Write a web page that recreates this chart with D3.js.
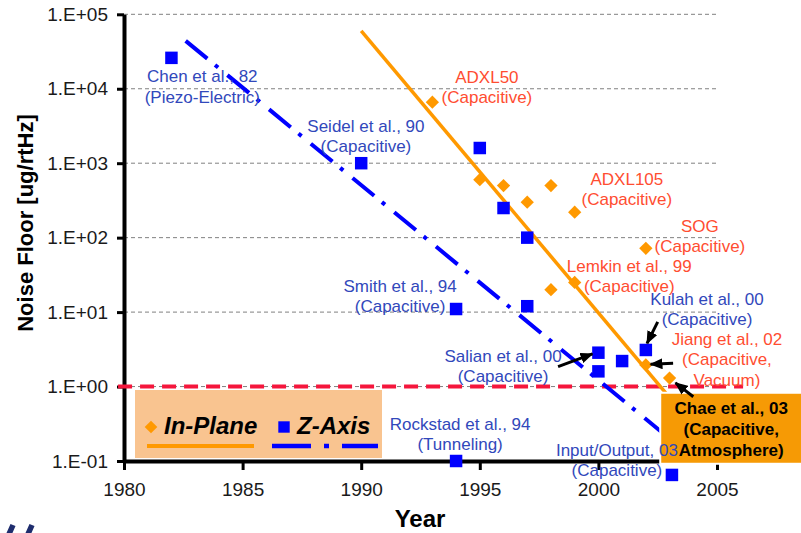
<!DOCTYPE html>
<meta charset="utf-8">
<style>
  body { margin: 0; background: #ffffff; }
  svg { font-family: Arial, "Liberation Sans", sans-serif; }
  .grid line { stroke: #808080; stroke-width: 1; stroke-dasharray: 4,3; }
  .axis .domain { stroke: #000; stroke-width: 4; }
  .axis .tick line { stroke: #000; stroke-width: 3; }
  .axis text { font-size: 19px; fill: #1a1a1a; font-family: Arial, "Liberation Sans", sans-serif; }
  .note { font-size: 17px; }
</style>
<body>
<script src="https://d3js.org/d3.v7.min.js"></script>
<script>
// tick values
var yearTicks = [1980, 1985, 1990, 1995, 2000, 2005];
var noiseTicks = [1e-1, 1e0, 1e1, 1e2, 1e3, 1e4, 1e5];
var noiseTickLabels = ["1.E-01", "1.E+00", "1.E+01", "1.E+02", "1.E+03", "1.E+04", "1.E+05"];

// In-Plane accelerometers (orange diamonds)
var inPlaneYear  = [1993, 1995, 1996, 1997, 1998, 1999, 1998, 1999, 2002, 2002, 2003];
var inPlaneNoise = [6600, 600,  500,  300,  500,  220,  20,   25,   72,   1.95, 1.3];

// Z-Axis accelerometers (blue squares)
var zAxisYear  = [1982,  1990, 1995, 1996, 1997, 1997, 1994, 2000, 2000, 2001, 2002, 1994, 2003.1];
var zAxisNoise = [26000, 1000, 1600, 250,  100,  12,   11,   2.85, 1.6,  2.2,  3.1,  0.1,  0.065];

// trend lines
var inPlaneFitYear = [1990, 2003.2];
var inPlaneFitNoise = [60000, 0.6];
var zAxisFitYear = [1982.6, 2002.7];
var zAxisFitNoise = [44000, 0.24];

// 1 ug/rtHz target
var targetNoise = 1;
var targetSpan = [1979.75, 2006.1];

// annotations: text lines, anchor (year, noise of first baseline), colour group
var noteText = [
  ["Chen et al., 82", "(Piezo-Electric)"],
  ["Seidel et al., 90", "(Capacitive)"],
  ["ADXL50", "(Capacitive)"],
  ["ADXL105", "(Capacitive)"],
  ["SOG", "(Capacitive)"],
  ["Lemkin et al., 99", "(Capacitive)"],
  ["Kulah et al., 00", "(Capacitive)"],
  ["Jiang et al., 02", "(Capacitive,", "Vacuum)"],
  ["Smith et al., 94", "(Capacitive)"],
  ["Salian et al., 00", "(Capacitive)"],
  ["Rockstad et al., 94", "(Tunneling)"],
  ["Input/Output, 03", "(Capacitive)"]
];
var noteYear  = [1983.3, 1990.2, 1995.3, 2001.2, 2004.28, 2001.3, 2004.58, 2005.42, 1991.64, 1995.98, 1994.17, 2000.78];
var noteNoise = [12300,  2630,   12000,  512,    120,     34.8,   12.5,    3.64,    18.7,    2.15,    0.263,   0.118];
var noteGroup = ["z", "z", "p", "p", "p", "p", "z", "p", "z", "z", "z", "z"];

var chaeText = ["Chae et al., 03", "(Capacitive,", "Atmosphere)"];
var chaeYear = 2005.6, chaeNoise = 0.431;

// arrows: from (year, noise) to (year, noise)
var arrowFromYear  = [1998.3, 2002.5, 2003.15, 2004.0];
var arrowFromNoise = [1.85,   7.4,    2.05,    0.73];
var arrowToYear    = [1999.75, 2002.05, 2002.2, 2003.25];
var arrowToNoise   = [2.75,    3.8,     2.0,    1.12];

var width = 801, height = 533;
var orange = "#ff9900", blue = "#0000ff";
var blueText = "#3148bb", redText = "#ff4d31";

var svg = d3.select("body").append("svg")
    .attr("width", width)
    .attr("height", height);

var x = d3.scaleLinear().domain([1980, 2005]).range([124, 717]);
var y = d3.scaleLog().domain([0.1, 1e5]).range([461, 14.3]);

var defs = svg.append("defs");
defs.append("marker")
    .attr("id", "head")
    .attr("markerUnits", "userSpaceOnUse")
    .attr("viewBox", "0 0 12 10")
    .attr("refX", 11).attr("refY", 5)
    .attr("markerWidth", 13).attr("markerHeight", 11)
    .attr("orient", "auto")
  .append("path")
    .attr("d", "M0,0L12,5L0,10Z")
    .attr("fill", "#000");

// gridlines
svg.append("g").attr("class", "grid")
  .selectAll("line")
  .data(noiseTicks.slice(1))
  .enter().append("line")
    .attr("x1", x(1980)).attr("x2", x(2005))
    .attr("y1", d => y(d)).attr("y2", d => y(d));

// axes
svg.append("g").attr("class", "axis")
    .attr("transform", "translate(0," + y(0.1) + ")")
    .call(d3.axisBottom(x).tickValues(yearTicks).tickFormat(d3.format("d"))
      .tickSize(9).tickSizeOuter(0).tickPadding(13));

svg.append("g").attr("class", "axis")
    .attr("transform", "translate(" + x(1980) + ",0)")
    .call(d3.axisLeft(y).tickValues(noiseTicks)
      .tickFormat((d, i) => noiseTickLabels[i])
      .tickSize(7).tickSizeOuter(0).tickPadding(9));

// axis titles
svg.append("text")
    .attr("x", 420).attr("y", 527)
    .attr("text-anchor", "middle")
    .style("font-size", "24px").style("font-weight", "bold")
    .text("Year");

svg.append("text")
    .attr("transform", "translate(33,223) rotate(-90)")
    .attr("text-anchor", "middle")
    .style("font-size", "22px").style("font-weight", "bold")
    .text("Noise Floor [ug/rtHz]");

// target line
svg.append("line")
    .attr("x1", x(targetSpan[0])).attr("x2", x(targetSpan[1]))
    .attr("y1", y(targetNoise)).attr("y2", y(targetNoise))
    .attr("stroke", "#f5163c").attr("stroke-width", 4)
    .attr("stroke-dasharray", "14,8");

// trend lines
var line = d3.line().x(d => x(d[0])).y(d => y(d[1]));

svg.append("path")
    .datum(d3.zip(inPlaneFitYear, inPlaneFitNoise))
    .attr("d", line)
    .attr("fill", "none").attr("stroke", orange).attr("stroke-width", 3.5);

svg.append("path")
    .datum(d3.zip(zAxisFitYear, zAxisFitNoise))
    .attr("d", line)
    .attr("fill", "none").attr("stroke", blue).attr("stroke-width", 4)
    .attr("stroke-dasharray", "28,10,4,12");

// Chae et al. highlight box
var cx = x(chaeYear), cy = y(chaeNoise);
svg.append("rect")
    .attr("x", cx - 71).attr("y", cy - 21)
    .attr("width", 145).attr("height", 71)
    .attr("fill", "#f69a05")
    .attr("stroke", "#ffffff").attr("stroke-width", 2);

svg.append("text")
    .attr("text-anchor", "middle")
    .style("font-size", "17px").style("font-weight", "bold")
    .attr("fill", "#000")
    .selectAll("tspan")
    .data(chaeText)
    .enter().append("tspan")
      .attr("x", cx)
      .attr("y", (d, i) => cy + i * 21)
      .text(d => d);

// annotation labels
noteText.forEach(function(lines, k) {
  var t = svg.append("text")
      .attr("class", "note")
      .attr("text-anchor", "middle")
      .attr("fill", noteGroup[k] == "z" ? blueText : redText);
  t.selectAll("tspan")
    .data(lines)
    .enter().append("tspan")
      .attr("x", x(noteYear[k]))
      .attr("y", (d, i) => y(noteNoise[k]) + i * 20.5)
      .text(d => d);
});

// markers
var diamond = d3.symbol().type(d3.symbolSquare).size(88);
var square = d3.symbol().type(d3.symbolSquare).size(156);

svg.append("g")
  .selectAll("path")
  .data(d3.zip(inPlaneYear, inPlaneNoise))
  .enter().append("path")
    .attr("d", diamond)
    .attr("transform", d => "translate(" + x(d[0]) + "," + y(d[1]) + ") rotate(45)")
    .attr("fill", orange);

svg.append("g")
  .selectAll("path")
  .data(d3.zip(zAxisYear, zAxisNoise))
  .enter().append("path")
    .attr("d", square)
    .attr("transform", d => "translate(" + x(d[0]) + "," + y(d[1]) + ")")
    .attr("fill", blue);

// arrows
svg.append("g")
  .selectAll("line")
  .data(d3.range(arrowFromYear.length))
  .enter().append("line")
    .attr("x1", i => x(arrowFromYear[i])).attr("y1", i => y(arrowFromNoise[i]))
    .attr("x2", i => x(arrowToYear[i])).attr("y2", i => y(arrowToNoise[i]))
    .attr("stroke", "#000").attr("stroke-width", 3)
    .attr("marker-end", "url(#head)");

// legend
var lg = svg.append("g");
lg.append("rect")
    .attr("x", 135).attr("y", 390)
    .attr("width", 247).attr("height", 68)
    .attr("fill", "#f9c490");
lg.append("path")
    .attr("d", d3.symbol().type(d3.symbolSquare).size(80))
    .attr("transform", "translate(151,427) rotate(45)")
    .attr("fill", orange);
lg.append("text")
    .attr("x", 164).attr("y", 434)
    .style("font-size", "24px").style("font-weight", "bold").style("font-style", "italic")
    .text("In-Plane");
lg.append("line")
    .attr("x1", 147).attr("x2", 254).attr("y1", 446).attr("y2", 446)
    .attr("stroke", orange).attr("stroke-width", 4);
lg.append("path")
    .attr("d", d3.symbol().type(d3.symbolSquare).size(130))
    .attr("transform", "translate(284,427)")
    .attr("fill", blue);
lg.append("text")
    .attr("x", 297).attr("y", 434)
    .style("font-size", "24px").style("font-weight", "bold").style("font-style", "italic")
    .text("Z-Axis");
lg.append("line")
    .attr("x1", 272).attr("x2", 378).attr("y1", 446).attr("y2", 446)
    .attr("stroke", blue).attr("stroke-width", 4.5)
    .attr("stroke-dasharray", "39,13,5,13");

// corner logo fragment (two slanted strokes)
svg.append("path")
    .attr("d", "M13,525L9,534M32,525L28,534")
    .attr("stroke", "#1f2d6e").attr("stroke-width", 5.5)
    .attr("fill", "none");
</script>
</body>
